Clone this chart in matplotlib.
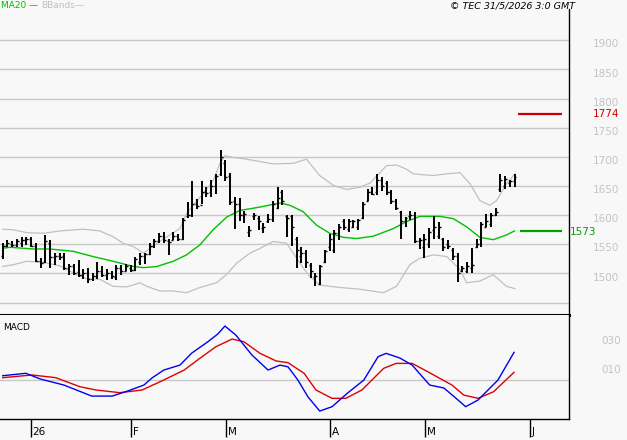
import numpy as np
import matplotlib
matplotlib.use("Agg")
import matplotlib.pyplot as plt
from matplotlib.transforms import blended_transform_factory

# ---------------- data ----------------
opens = [1530, 1548, 1550, 1549, 1552, 1558, 1560, 1548, 1522, 1520,
         1552, 1528, 1530, 1530, 1510, 1512, 1502, 1498, 1500, 1490,
         1496, 1505, 1498, 1500, 1494, 1510, 1505, 1510, 1506, 1520,
         1530, 1534, 1548, 1556, 1565, 1556, 1558, 1565, 1560, 1598,
         1600, 1620, 1618, 1640, 1640, 1650, 1670, 1690, 1668, 1625,
         1620, 1600, 1572, 1598, 1595, 1578, 1590, 1594, 1612, 1640,
         1598, 1598, 1560, 1530, 1535, 1515, 1494, 1482, 1520, 1545,
         1540, 1570, 1590, 1576, 1580, 1580, 1596, 1625, 1640, 1640,
         1660, 1655, 1640, 1625, 1605, 1590, 1598, 1600, 1555, 1545,
         1550, 1575, 1565, 1560, 1550, 1540, 1530, 1505, 1505, 1510,
         1545, 1560, 1580, 1585, 1600, 1645, 1650, 1655, 1658]
highs = [1552, 1558, 1555, 1560, 1562, 1563, 1563, 1552, 1527, 1566,
         1558, 1535, 1535, 1536, 1517, 1517, 1524, 1507, 1510, 1501,
         1519, 1512, 1507, 1504, 1514, 1514, 1517, 1514, 1528, 1535,
         1536, 1552, 1560, 1569, 1572, 1559, 1572, 1568, 1596, 1623,
         1658, 1628, 1659, 1648, 1660, 1671, 1711, 1694, 1673, 1631,
         1630, 1607, 1581, 1604, 1598, 1586, 1602, 1625, 1649, 1643,
         1601, 1601, 1563, 1546, 1541, 1518, 1501, 1515, 1541, 1568,
         1575, 1585, 1594, 1593, 1592, 1594, 1623, 1645, 1648, 1670,
         1666, 1659, 1644, 1628, 1607, 1597, 1607, 1606, 1561, 1567,
         1578, 1599, 1589, 1561, 1557, 1544, 1535, 1513, 1519, 1543,
         1559, 1588, 1602, 1603, 1612, 1670, 1667, 1660, 1670]
lows = [1525, 1546, 1546, 1546, 1546, 1549, 1545, 1519, 1510, 1518,
        1510, 1515, 1523, 1506, 1497, 1497, 1494, 1491, 1484, 1487,
        1490, 1494, 1489, 1490, 1489, 1498, 1504, 1502, 1504, 1515,
        1517, 1532, 1543, 1552, 1552, 1532, 1558, 1555, 1558, 1596,
        1597, 1610, 1620, 1632, 1631, 1636, 1668, 1659, 1617, 1576,
        1590, 1587, 1563, 1592, 1575, 1569, 1586, 1589, 1611, 1617,
        1563, 1547, 1510, 1518, 1510, 1493, 1479, 1480, 1518, 1538,
        1535, 1558, 1575, 1572, 1578, 1575, 1594, 1624, 1634, 1634,
        1642, 1634, 1620, 1609, 1559, 1580, 1592, 1552, 1542, 1527,
        1544, 1559, 1559, 1538, 1542, 1524, 1485, 1502, 1501, 1501,
        1544, 1545, 1580, 1580, 1598, 1639, 1645, 1649, 1648]
closes = [1548, 1552, 1549, 1556, 1558, 1560, 1548, 1522, 1518, 1555,
          1528, 1530, 1528, 1510, 1512, 1500, 1498, 1500, 1490, 1496,
          1505, 1498, 1500, 1496, 1510, 1505, 1512, 1506, 1525, 1530,
          1533, 1548, 1556, 1565, 1558, 1554, 1565, 1560, 1592, 1600,
          1620, 1616, 1640, 1638, 1650, 1668, 1700, 1665, 1622, 1620,
          1600, 1602, 1574, 1600, 1590, 1580, 1594, 1620, 1630, 1625,
          1596, 1580, 1540, 1535, 1520, 1505, 1495, 1512, 1538, 1560,
          1570, 1580, 1580, 1590, 1590, 1592, 1620, 1640, 1637, 1660,
          1650, 1640, 1625, 1612, 1590, 1595, 1600, 1556, 1558, 1560,
          1572, 1580, 1580, 1545, 1548, 1530, 1500, 1510, 1512, 1515,
          1550, 1585, 1590, 1600, 1605, 1660, 1662, 1658, 1665]

ma20_idx = [0, 1.5, 6.5, 10, 14.9, 19.1, 23.3, 27.6, 29.7, 32.5, 36, 38.8, 41.6,
            44.4, 47.3, 50, 54.3, 58.5, 60.6, 63.4, 66.2, 69, 71.9, 74.7, 78.2,
            82.4, 85.2, 88, 92.3, 95.1, 97.9, 100.7, 103.5, 106.3, 108]
ma20_val = [1543, 1545, 1542, 1542, 1538, 1529, 1521, 1512, 1510, 1512, 1521, 1532, 1549,
            1575, 1597, 1608, 1614, 1621, 1617, 1606, 1583, 1569, 1562, 1560, 1564,
            1577, 1589, 1598, 1598, 1594, 1580, 1562, 1558, 1566, 1573]

bb_up_idx = [0, 2.2, 5.1, 8.6, 12.1, 17, 20.5, 23.3, 25.4, 27.6, 29.7, 31.8, 34.6,
             37.4, 38.8, 40.2, 42.3, 44.4, 45.8, 46.9, 48.7, 51.5, 54.3, 57.1, 61.3,
             64.1, 65.5, 66.9, 69.8, 72.6, 75.4, 77.5, 79.6, 81, 83.1, 85.2, 86.6,
             90.9, 93.7, 96.5, 98.6, 100.7, 102.8, 104.2, 106.3, 108.1]
bb_up_val = [1576, 1575, 1570, 1569, 1573, 1576, 1573, 1563, 1552, 1546, 1535, 1547, 1563,
             1577, 1603, 1617, 1637, 1659, 1688, 1702, 1699, 1696, 1692, 1688, 1689,
             1696, 1682, 1668, 1651, 1644, 1648, 1655, 1673, 1685, 1686, 1679, 1671,
             1668, 1671, 1673, 1654, 1625, 1617, 1625, 1654, 1671]

bb_lo_idx = [0, 2.2, 5.1, 8.6, 12.1, 14.9, 17.7, 20.5, 23.3, 26.2, 29, 30.4, 33.2,
             36, 38.8, 41.6, 45.1, 47.2, 49.4, 52.2, 54.3, 57.1, 59.9, 61.3, 63.4,
             64.8, 66.9, 71.2, 75.4, 80.3, 83.1, 85.9, 88, 90.9, 93.7, 96.5, 97.9,
             100.7, 103.5, 106.3, 108.1]
bb_lo_val = [1512, 1515, 1521, 1519, 1513, 1501, 1491, 1490, 1478, 1477, 1484, 1478, 1470,
             1470, 1467, 1476, 1484, 1498, 1518, 1535, 1543, 1555, 1552, 1535, 1510,
             1495, 1480, 1476, 1473, 1467, 1478, 1515, 1526, 1532, 1529, 1507, 1484,
             1487, 1498, 1478, 1474]

macd_idx = [0, 4.9, 7.9, 12.9, 18.8, 23.1, 26.4, 29.8, 31.5, 34, 37.4, 39.9, 43.3,
            45.4, 46.9, 49.2, 52.6, 56, 58.5, 60.2, 62.3, 64.4, 66.9, 69.5, 72.8,
            76.2, 79.2, 80.9, 83.8, 86.4, 90.1, 93.1, 95.6, 97.7, 100.3, 104.5, 107.9]
macd_val = [2.7, 4.4, 0.4, -3.9, -11.7, -11.7, -8.1, -3.9, 1.1, 6.7, 10.2, 18.7, 26.7,
            32.2, 37.8, 31.4, 17.3, 6.7, 10.2, 9.0, -0.4, -12.2, -22.3, -19.2, -9.5,
            -0.4, 16.1, 18.5, 15.2, 10.2, -3.9, -6.0, -13.1, -19.2, -14.5, -0.4, 19.2]

signal_idx = [0, 6.2, 11.2, 16.3, 19.7, 24.7, 29.4, 33.2, 38.3, 41.6, 45, 48.4, 50.9,
              54.3, 57.7, 60.2, 63.6, 66.1, 69.5, 72.4, 75.8, 80.4, 83, 86.4, 89.7,
              94.8, 97.3, 100.3, 103.6, 107.9]
signal_val = [1.3, 3.2, 1.3, -5.1, -7.4, -9.3, -7.4, -1.6, 6.7, 15.0, 23.2, 28.6, 26.7,
              18.5, 13.1, 11.9, 4.4, -7.4, -13.3, -13.3, -7.4, 7.9, 11.4, 11.4, 5.5,
              -3.9, -11.0, -13.3, -8.6, 5.1]

price_ticks = [1500, 1550, 1600, 1650, 1700, 1750, 1800, 1850, 1900]
grid_levels = [1450, 1500, 1550, 1600, 1650, 1700, 1750, 1800, 1850, 1900]
macd_ticks = [10, 30]
macd_tick_labels = ["010", "030"]
month_ticks = [5.97, 27.1, 47.1, 69.1, 89.1, 111.2]
month_labels = ["26", "F", "M", "A", "M", "J"]
resistance = 1774
last_ma = 1573

# ---------------- style ----------------
BG = "#f8f8f8"
GRID = "#c8c8c8"
LABEL = "#c4c4c4"
W, H = 627, 440

fig = plt.figure(figsize=(W / 100, H / 100), dpi=100, facecolor=BG)

XMIN, XMAX = -0.57, 119.5
ax = fig.add_axes([0, (H - 315) / H, 569 / W, (315 - 9) / H])
ax.set_facecolor(BG)
ax.set_xlim(XMIN, XMAX)
ax.set_ylim(1428.8, 1953.7)
for s in ["top", "left"]:
    ax.spines[s].set_visible(False)
ax.spines["right"].set_color("black")
ax.spines["right"].set_linewidth(1.0)
ax.spines["bottom"].set_color("black")
ax.spines["bottom"].set_linewidth(2.2)
ax.set_xticks([])
ax.set_yticks([])
for g in grid_levels:
    ax.axhline(g, color=GRID, lw=1.0, zorder=1)

x = np.arange(len(closes))
ax.plot(bb_up_idx, bb_up_val, color="#c0c0c0", lw=0.9, zorder=2)
ax.plot(bb_lo_idx, bb_lo_val, color="#c0c0c0", lw=0.9, zorder=2)
ax.plot(ma20_idx, ma20_val, color="#00c000", lw=1.0, zorder=3)
ax.vlines(x, lows, highs, color="black", lw=1.4, zorder=4)
ax.hlines(opens, x - 0.42, x, color="black", lw=1.0, zorder=4)
ax.hlines(closes, x, x + 0.42, color="black", lw=1.0, zorder=4)

# horizontal markers on the right
ax.hlines(resistance, 108.7, 118, color="#cc0000", lw=1.6, zorder=5)
ax.hlines(last_ma, 109.1, 118, color="#00a000", lw=1.6, zorder=5)

trans = blended_transform_factory(ax.transAxes, ax.transData)
for p in price_ticks:
    ax.text(593 / 569, p - 7, str(p), transform=trans, color=LABEL, fontsize=7.5,
            ha="left", va="center", clip_on=False)
ax.text(593 / 569, resistance - 1, str(resistance), transform=trans, color="#cc0000",
        fontsize=7.5, ha="left", va="center", clip_on=False)
ax.text(570 / 569, last_ma - 1, str(last_ma), transform=trans, color="#00a000",
        fontsize=7.5, ha="left", va="center", clip_on=False)

# header texts
fig.text(1 / W, 1 - 6 / H, "MA20 \u2014", color="#00c000", fontsize=6.5, ha="left", va="center")
fig.text(41 / W, 1 - 6 / H, "BBands\u2014", color="#c0c0c0", fontsize=6.5, ha="left", va="center")
fig.text(575 / W, 1 - 6 / H, "\u00a9 TEC 31/5/2026 3:0 GMT", color="black", fontsize=6.8,
         style="italic", ha="right", va="center")

# ---------------- MACD panel ----------------
axm = fig.add_axes([0, (H - 419) / H, 569 / W, (419 - 315) / H])
axm.set_facecolor(BG)
axm.set_xlim(XMIN, XMAX)
axm.set_ylim(-27.9, 45.6)
axm.spines["left"].set_visible(False)
axm.spines["top"].set_visible(False)
for s in ["right", "bottom"]:
    axm.spines[s].set_color("black")
    axm.spines[s].set_linewidth(1.0)
axm.set_yticks([])
axm.axhline(0, color=GRID, lw=1.0, zorder=1)
axm.plot(signal_idx, signal_val, color="#dd0000", lw=1.0, zorder=3)
axm.plot(macd_idx, macd_val, color="#0000ee", lw=1.0, zorder=4)
axm.text(3 / 569, 0.88, "MACD", transform=axm.transAxes, fontsize=6.5, color="black",
         ha="left", va="center")
transm = blended_transform_factory(axm.transAxes, axm.transData)
for v, lab in zip(macd_ticks, macd_tick_labels):
    axm.text(601 / 569, v - 3, lab, transform=transm, color=LABEL, fontsize=7.5,
             ha="left", va="center", clip_on=False)

axm.set_xticks(month_ticks)
axm.set_xticklabels([])
axm.tick_params(axis="x", direction="out", length=13, width=1.0, color="black")
transx = blended_transform_factory(axm.transData, fig.transFigure)
for t, lab in zip(month_ticks, month_labels):
    axm.text(t + 0.35, 8 / H, lab, transform=transx, fontsize=7.5, color="black",
             ha="left", va="center", clip_on=False)

fig.savefig("out.png", dpi=100, facecolor=BG)
